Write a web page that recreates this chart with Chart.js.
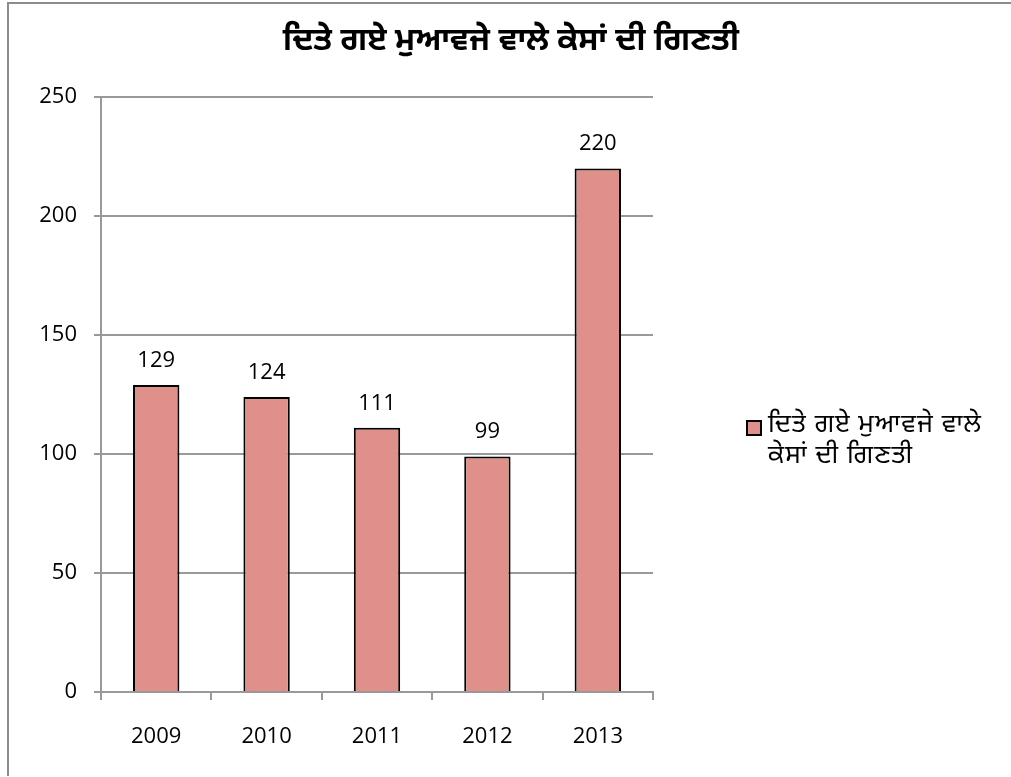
<!DOCTYPE html>
<html>
<head>
<meta charset="utf-8">
<title>ਦਿਤੇ ਗਏ ਮੁਆਵਜੇ ਵਾਲੇ ਕੇਸਾਂ ਦੀ ਗਿਣਤੀ</title>
<script src="https://cdn.jsdelivr.net/npm/chart.js@4/dist/chart.umd.min.js"></script>
<style>
  html, body { margin: 0; padding: 0; background: #fff; overflow: hidden; }
  .frame {
    position: absolute; left: 7px; top: 2px; width: 1100px; height: 772px;
    border-left: 2px solid #8c8c8c; border-top: 2px solid #8c8c8c;
    pointer-events: none;
  }
  #chart { position: absolute; left: 0; top: 0; }
</style>
</head>
<body>
<canvas id="chart" width="1011" height="777"></canvas>
<div class="frame"></div>
<script>
  /* ---------- Data ---------- */

  const years = ['2009', '2010', '2011', '2012', '2013'];
  const caseCounts = [129, 124, 111, 99, 220];
  const yTicks = [0, 50, 100, 150, 200, 250];
  const chartTitle = 'ਦਿਤੇ ਗਏ ਮੁਆਵਜੇ ਵਾਲੇ ਕੇਸਾਂ ਦੀ ਗਿਣਤੀ';
  const legendLines = ['ਦਿਤੇ ਗਏ ਮੁਆਵਜੇ ਵਾਲੇ', 'ਕੇਸਾਂ ਦੀ ਗਿਣਤੀ'];

  const numFont = "'Open Sans', sans-serif";
  const gurFont = "'Noto Sans Gurmukhi', 'Lohit Gurmukhi', 'Raavi', 'Noto Sans', sans-serif";
  const barFill = '#E0908A';
  const gridGrey = '#999999';

  /* ---------- Plugins: value labels, title, legend ---------- */

  const valueLabels = {
    id: 'valueLabels',
    afterDatasetsDraw(chart) {
      const ctx = chart.ctx;
      const meta = chart.getDatasetMeta(0);
      ctx.save();
      ctx.font = '22px ' + numFont;
      ctx.fillStyle = '#000';
      ctx.textAlign = 'center';
      ctx.textBaseline = 'alphabetic';
      meta.data.forEach((bar, i) => {
        ctx.fillText(String(caseCounts[i]), bar.x, bar.y - 18);
      });
      ctx.restore();
    },
  };

  const titleAndLegend = {
    id: 'titleAndLegend',
    afterDraw(chart) {
      const ctx = chart.ctx;
      ctx.save();
      ctx.fillStyle = '#000';
      ctx.font = 'bold 32px ' + gurFont;
      ctx.textAlign = 'center';
      ctx.textBaseline = 'middle';
      ctx.fillText(chartTitle, 511, 44);

      // legend swatch
      ctx.fillStyle = barFill;
      ctx.fillRect(747, 421, 14, 14);
      ctx.strokeStyle = '#000';
      ctx.lineWidth = 2;
      ctx.strokeRect(747, 421, 14, 14);

      ctx.fillStyle = '#000';
      ctx.font = '26px ' + gurFont;
      ctx.letterSpacing = '1px';
      ctx.textAlign = 'left';
      ctx.textBaseline = 'middle';
      legendLines.forEach((line, i) => {
        ctx.fillText(line, 768, 427 + i * 31);
      });
      ctx.restore();
    },
  };

  /* ---------- Chart ---------- */

  new Chart(document.getElementById('chart'), {
    type: 'bar',
    data: {
      labels: years,
      datasets: [
        {
          label: chartTitle,
          data: caseCounts,
          backgroundColor: barFill,
          borderColor: '#000',
          borderWidth: 2,
          categoryPercentage: 1,
          barPercentage: 0.42,
        },
      ],
    },
    options: {
      responsive: false,
      animation: false,
      layout: { padding: { top: 97, right: 358, bottom: 25, left: 0 } },
      scales: {
        x: {
          grid: {
            offset: true,
            drawOnChartArea: false,
            drawTicks: true,
            tickLength: 8,
            color: gridGrey,
            lineWidth: 2,
          },
          border: { color: gridGrey, width: 2 },
          ticks: {
            color: '#000',
            font: { family: numFont, size: 22 },
            padding: 24,
            maxRotation: 0,
          },
          afterFit: (scale) => { scale.height = 60; },
        },
        y: {
          min: 0,
          max: 250,
          afterBuildTicks: (scale) => {
            scale.ticks = yTicks.map((v) => ({ value: v }));
          },
          grid: { color: gridGrey, lineWidth: 2, tickLength: 7 },
          border: { color: gridGrey, width: 2 },
          ticks: {
            color: '#000',
            font: { family: numFont, size: 22 },
            padding: 17,
          },
          afterFit: (scale) => { scale.width = 101; },
        },
      },
      plugins: {
        legend: { display: false },
        title: { display: false },
        tooltip: { enabled: false },
      },
    },
    plugins: [valueLabels, titleAndLegend],
  });
</script>
</body>
</html>
